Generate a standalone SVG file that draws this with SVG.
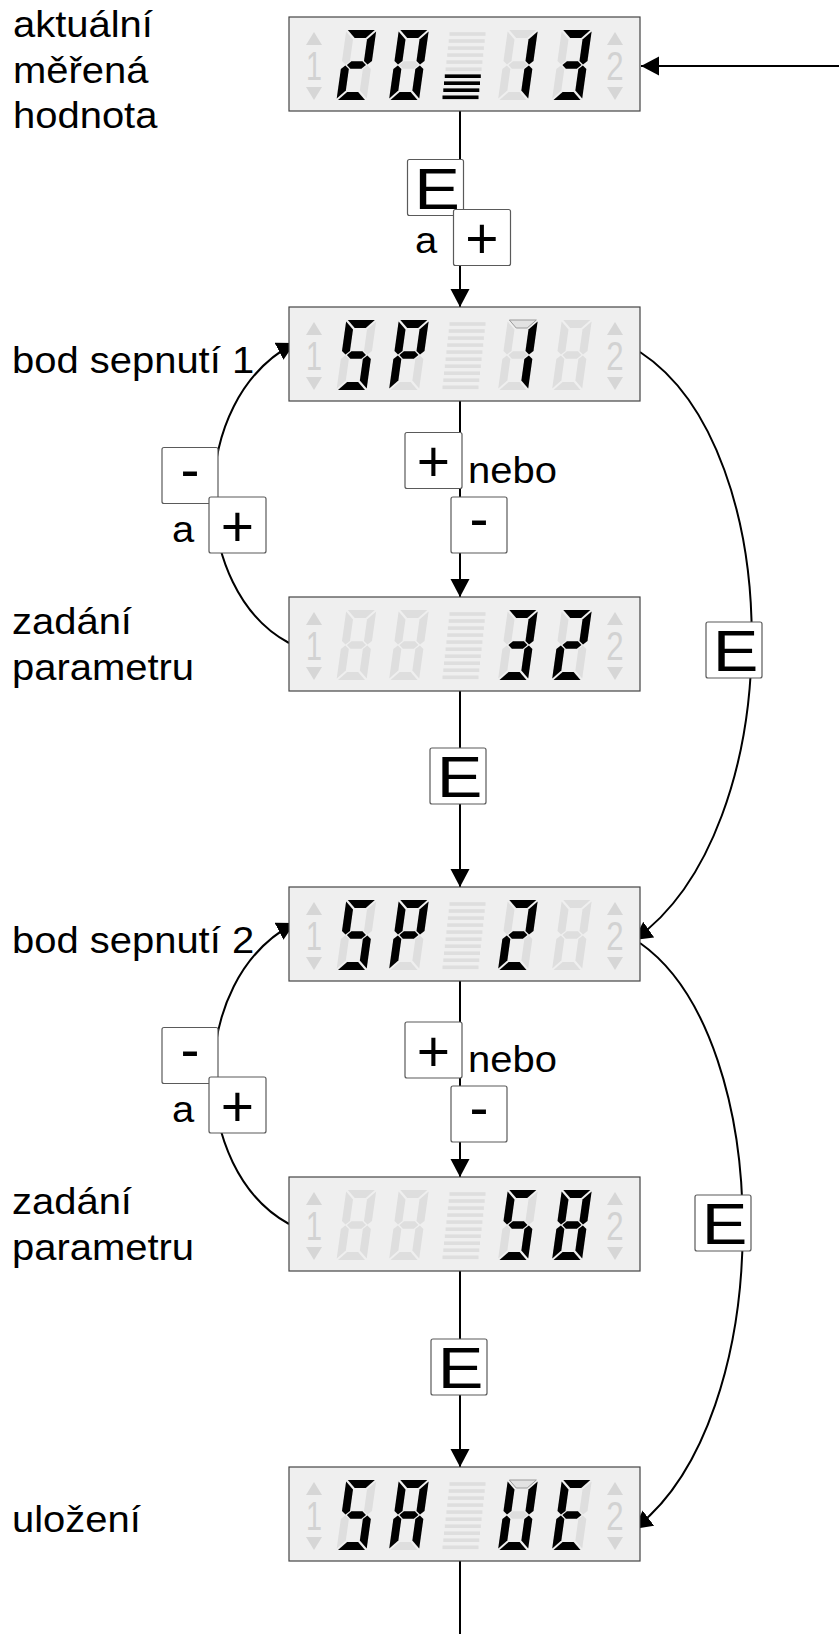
<svg xmlns="http://www.w3.org/2000/svg" xmlns:xlink="http://www.w3.org/1999/xlink" width="839" height="1634" viewBox="0 0 839 1634">
  <style>
    .panel { fill: #efefef; stroke: #444; stroke-width: 1.2; }
    .off { fill: #dedede; }
    .on { fill: #000; }
    .hl { fill: #e2e2e2; stroke: #8c8c8c; stroke-width: 0.8; }
    .ind { fill: #d6d6d6; }
    .indt { fill: #d2d2d2; font-family: "Liberation Sans", Arial, sans-serif; font-size: 40px; }
    .bar { fill: #dedede; }
    .bar.lit { fill: #000; }
    .btn { fill: #fff; stroke: #5a5a5a; stroke-width: 1.2; }
    .key { font-family: "Liberation Sans", Arial, sans-serif; font-size: 57px; fill: #000; text-anchor: middle; }
    .lbl { font-family: "Liberation Sans", Arial, sans-serif; font-size: 37px; fill: #000; }
    .wire { fill: none; stroke: #000; stroke-width: 2; }
    .arrow { marker-end: url(#head); }
  </style>
  <defs>
    <marker id="head" markerUnits="userSpaceOnUse" markerWidth="19" markerHeight="20" refX="18" refY="9.5" orient="auto">
      <path d="M0,0 L18,9.5 L0,19 z" fill="#000"/>
    </marker>
    <!-- seven-segment cells, 30 x 70 -->
    <polygon id="sa" points="1.5,0 28.5,0 20.5,8 9.5,8"/>
    <polygon id="sb" points="30,1.5 22,9.5 22,31 26,34.5 30,31"/>
    <polygon id="sc" points="30,68.5 22,60.5 22,39 26,35.5 30,39"/>
    <polygon id="sd" points="1.5,70 28.5,70 20.5,62 9.5,62"/>
    <polygon id="se" points="0,68.5 8,60.5 8,39 4,35.5 0,39"/>
    <polygon id="sf" points="0,1.5 8,9.5 8,31 4,34.5 0,31"/>
    <polygon id="sg" points="5.5,35 9.5,31.2 20.5,31.2 24.5,35 20.5,38.8 9.5,38.8"/>
    <g id="d8">
      <use href="#sa"/><use href="#sb"/><use href="#sc"/><use href="#sd"/>
      <use href="#se"/><use href="#sf"/><use href="#sg"/>
    </g>
    <!-- bar graph, 10 steps -->
    <g id="bars">
      <rect class="bar" x="160.5" y="15.2" width="36" height="3.6"/>
      <rect class="bar" x="159.7" y="22.2" width="36" height="3.6"/>
      <rect class="bar" x="158.9" y="29.3" width="36" height="3.6"/>
      <rect class="bar" x="158.2" y="36.3" width="36" height="3.6"/>
      <rect class="bar" x="157.4" y="43.3" width="36" height="3.6"/>
      <rect class="bar" x="156.6" y="50.4" width="36" height="3.6"/>
      <rect class="bar" x="155.8" y="57.4" width="36" height="3.6"/>
      <rect class="bar" x="155.0" y="64.4" width="36" height="3.6"/>
      <rect class="bar" x="154.3" y="71.4" width="36" height="3.6"/>
      <rect class="bar" x="153.5" y="78.5" width="36" height="3.6"/>
    </g>
    <!-- panel frame with side indicators -->
    <g id="frame">
      <rect class="panel" x="0" y="0" width="351" height="94"/>
      <polygon class="ind" points="17,28 33,28 25,15"/>
      <polygon class="ind" points="17,70 33,70 25,83"/>
      <text class="indt" text-anchor="middle" transform="translate(25,63) scale(0.72,1)">1</text>
      <polygon class="ind" points="318,28 334,28 326,15"/>
      <polygon class="ind" points="318,70 334,70 326,83"/>
      <text class="indt" text-anchor="middle" transform="translate(326,63) scale(0.78,1)">2</text>
      <use href="#bars"/>
      <g transform="translate(47.5,83) skewX(-8) translate(0,-70)"><use href="#d8" class="off"/></g>
      <g transform="translate(100,83) skewX(-8) translate(0,-70)"><use href="#d8" class="off"/></g>
      <g transform="translate(209,83) skewX(-8) translate(0,-70)"><use href="#d8" class="off"/></g>
      <g transform="translate(263,83) skewX(-8) translate(0,-70)"><use href="#d8" class="off"/></g>
    </g>
  </defs>

  <!-- connectors -->
  <g id="connectors">
    <path class="wire arrow" d="M839,66 H641"/>
    <path class="wire arrow" d="M460,111 V307"/>
    <path class="wire arrow" d="M460,401 V597"/>
    <path class="wire arrow" d="M460,691 V887"/>
    <path class="wire arrow" d="M460,981 V1177"/>
    <path class="wire arrow" d="M460,1271 V1467"/>
    <path class="wire" d="M460,1561 V1634"/>
    <path class="wire arrow" d="M289,643 C190,590 185,400 295,343"/>
    <path class="wire arrow" d="M289,1224 C190,1170 185,980 295,923"/>
    <path class="wire arrow" d="M640,352 C790,450 790,830 634,940"/>
    <path class="wire arrow" d="M640,943 C778,1040 778,1420 634,1529"/>
  </g>

  <!-- display: measured value 20 13 -->
  <g id="disp-measured" transform="translate(289,17)">
    <use href="#frame"/>
    <rect class="bar lit" x="155.8" y="57.4" width="36" height="3.6"/>
    <rect class="bar lit" x="155.0" y="64.4" width="36" height="3.6"/>
    <rect class="bar lit" x="154.3" y="71.4" width="36" height="3.6"/>
    <rect class="bar lit" x="153.5" y="78.5" width="36" height="3.6"/>
    <g transform="translate(47.5,83) skewX(-8) translate(0,-70)" class="on"><use href="#sa"/><use href="#sb"/><use href="#sg"/><use href="#se"/><use href="#sd"/></g>
    <g transform="translate(100,83) skewX(-8) translate(0,-70)" class="on"><use href="#sa"/><use href="#sb"/><use href="#sc"/><use href="#sd"/><use href="#se"/><use href="#sf"/></g>
    <g transform="translate(209,83) skewX(-8) translate(0,-70)" class="on"><use href="#sb"/><use href="#sc"/></g>
    <g transform="translate(263,83) skewX(-8) translate(0,-70)" class="on"><use href="#sa"/><use href="#sb"/><use href="#sg"/><use href="#sc"/><use href="#sd"/></g>
  </g>

  <!-- display: SP 1 -->
  <g id="disp-sp1" transform="translate(289,307)">
    <use href="#frame"/>
    <g transform="translate(47.5,83) skewX(-8) translate(0,-70)" class="on"><use href="#sa"/><use href="#sf"/><use href="#sg"/><use href="#sc"/><use href="#sd"/></g>
    <g transform="translate(100,83) skewX(-8) translate(0,-70)" class="on"><use href="#sa"/><use href="#sb"/><use href="#sf"/><use href="#sg"/><use href="#se"/></g>
    <g transform="translate(209,83) skewX(-8) translate(0,-70)"><use href="#sa" class="hl"/><g class="on"><use href="#sb"/><use href="#sc"/></g></g>
  </g>

  <!-- display: value 32 -->
  <g id="disp-val1" transform="translate(289,597)">
    <use href="#frame"/>
    <g transform="translate(209,83) skewX(-8) translate(0,-70)" class="on"><use href="#sa"/><use href="#sb"/><use href="#sg"/><use href="#sc"/><use href="#sd"/></g>
    <g transform="translate(263,83) skewX(-8) translate(0,-70)" class="on"><use href="#sa"/><use href="#sb"/><use href="#sg"/><use href="#se"/><use href="#sd"/></g>
  </g>

  <!-- display: SP 2 -->
  <g id="disp-sp2" transform="translate(289,887)">
    <use href="#frame"/>
    <g transform="translate(47.5,83) skewX(-8) translate(0,-70)" class="on"><use href="#sa"/><use href="#sf"/><use href="#sg"/><use href="#sc"/><use href="#sd"/></g>
    <g transform="translate(100,83) skewX(-8) translate(0,-70)" class="on"><use href="#sa"/><use href="#sb"/><use href="#sf"/><use href="#sg"/><use href="#se"/></g>
    <g transform="translate(209,83) skewX(-8) translate(0,-70)" class="on"><use href="#sa"/><use href="#sb"/><use href="#sg"/><use href="#se"/><use href="#sd"/></g>
  </g>

  <!-- display: value 58 -->
  <g id="disp-val2" transform="translate(289,1177)">
    <use href="#frame"/>
    <g transform="translate(209,83) skewX(-8) translate(0,-70)" class="on"><use href="#sa"/><use href="#sf"/><use href="#sg"/><use href="#sc"/><use href="#sd"/></g>
    <g transform="translate(263,83) skewX(-8) translate(0,-70)" class="on"><use href="#d8"/></g>
  </g>

  <!-- display: SA UE -->
  <g id="disp-save" transform="translate(289,1467)">
    <use href="#frame"/>
    <g transform="translate(47.5,83) skewX(-8) translate(0,-70)" class="on"><use href="#sa"/><use href="#sf"/><use href="#sg"/><use href="#sc"/><use href="#sd"/></g>
    <g transform="translate(100,83) skewX(-8) translate(0,-70)" class="on"><use href="#sa"/><use href="#sb"/><use href="#sc"/><use href="#se"/><use href="#sf"/><use href="#sg"/></g>
    <g transform="translate(209,83) skewX(-8) translate(0,-70)"><use href="#sa" class="hl"/><g class="on"><use href="#sb"/><use href="#sc"/><use href="#sd"/><use href="#se"/><use href="#sf"/></g></g>
    <g transform="translate(263,83) skewX(-8) translate(0,-70)" class="on"><use href="#sa"/><use href="#sf"/><use href="#sg"/><use href="#se"/><use href="#sd"/></g>
  </g>

  <!-- key: E and + into SP 1 -->
  <g id="key-enter-plus">
    <rect class="btn" x="407.5" y="159.5" width="56" height="56" rx="2"/>
    <text class="key" transform="translate(437,208.5) scale(1.2,1)">E</text>
    <text class="lbl" transform="translate(415,253) scale(1.08,1)">a</text>
    <rect class="btn" x="453.5" y="209.5" width="57" height="56" rx="2"/>
    <text class="key" x="482" y="258">+</text>
  </g>

  <!-- key: - and + back to SP 1 -->
  <g id="key-back1">
    <rect class="btn" x="162" y="447.5" width="56" height="56" rx="2"/>
    <text class="key" x="190" y="488.5">-</text>
    <text class="lbl" transform="translate(172,541.7) scale(1.08,1)">a</text>
    <rect class="btn" x="209" y="497" width="57" height="56" rx="2"/>
    <text class="key" x="237.5" y="545.5">+</text>
  </g>

  <!-- key: + or - to edit value 1 -->
  <g id="key-edit1">
    <rect class="btn" x="405" y="432.5" width="57" height="56" rx="2"/>
    <text class="key" x="433.5" y="481">+</text>
    <text class="lbl" transform="translate(468,483.3) scale(1.08,1)">nebo</text>
    <rect class="btn" x="451" y="497" width="56" height="56" rx="2"/>
    <text class="key" x="479" y="538">-</text>
  </g>

  <!-- key: E confirm value 1 -->
  <g id="key-enter1">
    <rect class="btn" x="430" y="748" width="56" height="56" rx="2"/>
    <text class="key" transform="translate(459.5,797) scale(1.2,1)">E</text>
  </g>

  <!-- key: E skip to SP 2 -->
  <g id="key-skip1">
    <rect class="btn" x="706" y="622" width="56" height="56" rx="2"/>
    <text class="key" transform="translate(735.5,671) scale(1.2,1)">E</text>
  </g>

  <!-- key: - and + back to SP 2 -->
  <g id="key-back2">
    <rect class="btn" x="162" y="1027.5" width="56" height="56" rx="2"/>
    <text class="key" x="190" y="1068.5">-</text>
    <text class="lbl" transform="translate(172,1121.7) scale(1.08,1)">a</text>
    <rect class="btn" x="209" y="1077" width="57" height="56" rx="2"/>
    <text class="key" x="237.5" y="1125.5">+</text>
  </g>

  <!-- key: + or - to edit value 2 -->
  <g id="key-edit2">
    <rect class="btn" x="405" y="1022" width="57" height="56" rx="2"/>
    <text class="key" x="433.5" y="1070.5">+</text>
    <text class="lbl" transform="translate(468,1072) scale(1.08,1)">nebo</text>
    <rect class="btn" x="451" y="1086" width="56" height="56" rx="2"/>
    <text class="key" x="479" y="1127">-</text>
  </g>

  <!-- key: E confirm value 2 -->
  <g id="key-enter2">
    <rect class="btn" x="431" y="1339" width="56" height="56" rx="2"/>
    <text class="key" transform="translate(460.5,1388) scale(1.2,1)">E</text>
  </g>

  <!-- key: E skip to save -->
  <g id="key-skip2">
    <rect class="btn" x="695" y="1195" width="56" height="56" rx="2"/>
    <text class="key" transform="translate(724.5,1244) scale(1.2,1)">E</text>
  </g>

  <!-- state labels -->
  <g id="labels">
    <text class="lbl" transform="translate(13,37) scale(1.08,1)">aktuální</text>
    <text class="lbl" transform="translate(13,83) scale(1.08,1)">měřená</text>
    <text class="lbl" transform="translate(13,128) scale(1.08,1)">hodnota</text>
    <text class="lbl" transform="translate(12,373) scale(1.08,1)">bod sepnutí 1</text>
    <text class="lbl" transform="translate(12,634) scale(1.08,1)">zadání</text>
    <text class="lbl" transform="translate(12,680) scale(1.08,1)">parametru</text>
    <text class="lbl" transform="translate(12,953) scale(1.08,1)">bod sepnutí 2</text>
    <text class="lbl" transform="translate(12,1214) scale(1.08,1)">zadání</text>
    <text class="lbl" transform="translate(12,1260) scale(1.08,1)">parametru</text>
    <text class="lbl" transform="translate(12,1532) scale(1.08,1)">uložení</text>
  </g>
</svg>
